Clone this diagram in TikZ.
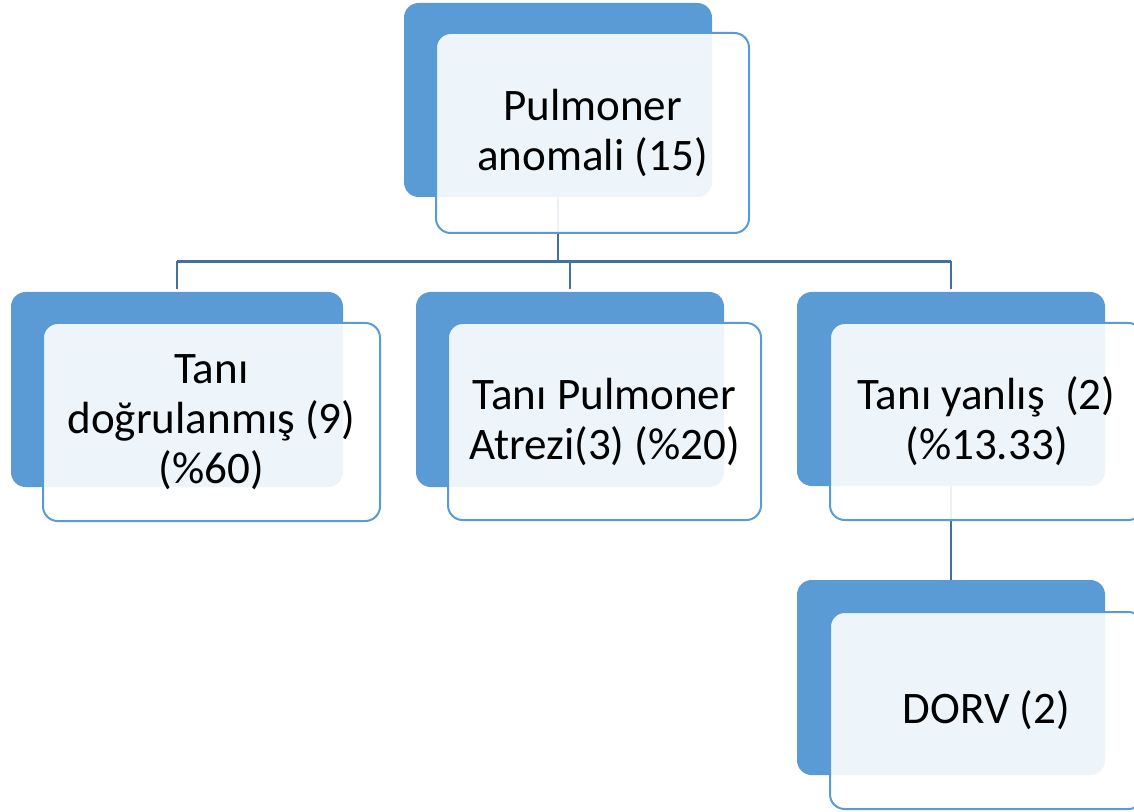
\documentclass[tikz,border=0pt]{standalone}
\usepackage{fontspec}
\setmainfont{Carlito}
\definecolor{accent}{HTML}{5B9BD5}
\definecolor{linkblue}{HTML}{41719C}
\begin{document}
\begin{tikzpicture}[x=0.75pt,y=-0.75pt,
  backbox/.style={rectangle,rounded corners=11pt,fill=accent,draw=none,inner sep=0pt,outer sep=0pt},
  frontbox/.style={rectangle,rounded corners=11pt,draw=accent,line width=1.5pt,fill=white,fill opacity=0.9,text opacity=1,
    inner sep=0pt,outer sep=0pt,align=center,font=\fontsize{33.8}{37.5}\selectfont},
  link/.style={draw=linkblue,line width=1.6pt}]
\useasboundingbox (0,0) rectangle (1134,812);
\clip (0,0) rectangle (1134,812);

% back layers
\node[backbox,minimum width=231pt,minimum height=145.5pt] (tb) at (558,100) {};
\node[backbox,minimum width=249pt,minimum height=146.25pt] (lb) at (177,389.5) {};
\node[backbox,minimum width=231pt,minimum height=146.25pt] (mb) at (570,389.5) {};
\node[backbox,minimum width=231pt,minimum height=145.5pt] (rb) at (951,389) {};
\node[backbox,minimum width=231pt,minimum height=146.25pt] (db) at (951,677.5) {};

% connectors
\coordinate (bus) at (0,261.5);
\draw[link] (tb.south) -- (tb.south |- bus);
\draw[link] (lb.north |- bus) -- (rb.north |- bus);
\draw[link,shorten >=2pt] (lb.north |- bus) -- (lb.north);
\draw[link,shorten >=2pt] (mb.north |- bus) -- (mb.north);
\draw[link,shorten >=2pt] (rb.north |- bus) -- (rb.north);
\draw[link] (rb.south) -- (db.north);

% front layers with labels
\node[frontbox,minimum width=234.75pt,minimum height=150pt] (tf) at (592.5,133) {Pulmoner\\anomali (15)};
\node[frontbox,minimum width=252.75pt,minimum height=148.5pt] (lf) at (211.5,422) {Tanı\\doğrulanmış (9)\\(\%60)};
\node[frontbox,minimum width=234.75pt,minimum height=147.75pt] (mf) at (604.5,421.5) {Tanı Pulmoner\\Atrezi(3) (\%20)};
\node[frontbox,minimum width=234.75pt,minimum height=147.75pt] (rf) at (986.5,421.5) {Tanı yanlış~ (2)\\(\%13.33)};
\node[frontbox,minimum width=234.75pt,minimum height=147.75pt] (df) at (986.5,710.5) {DORV (2)};
\end{tikzpicture}
\end{document}
